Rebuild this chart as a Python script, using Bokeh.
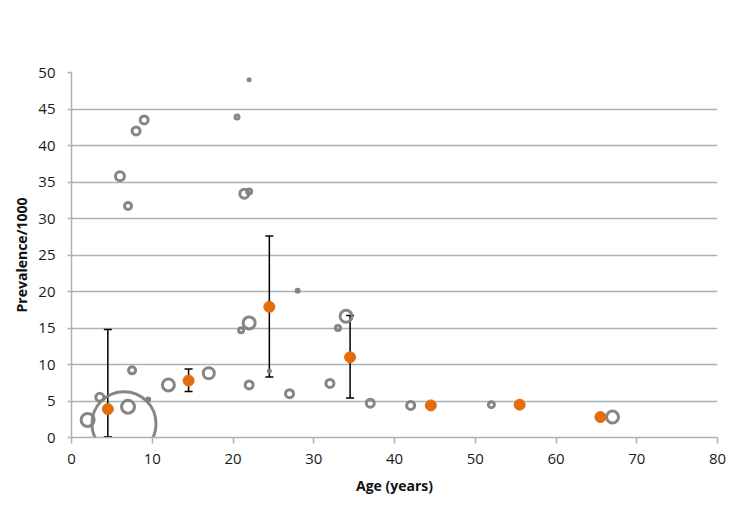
from bokeh.plotting import figure
from bokeh.models import ColumnDataSource, Whisker, Range1d, FixedTicker, TeeHead
from bokeh.embed import file_html
from bokeh.resources import INLINE

# Study bubbles (grey rings)
bubble_x = [2, 3.5, 6.5, 7, 7.5, 9.5, 12, 17, 6, 7, 8, 9, 20.5, 22, 21.4, 22, 21, 22, 22, 24.5, 27, 28, 32, 33, 34, 37, 42, 52, 67]
bubble_y = [2.4, 5.5, 1.9, 4.2, 9.2, 5.2, 7.2, 8.8, 35.8, 31.7, 42, 43.5, 43.9, 49, 33.4, 33.7, 14.7, 15.7, 7.2, 9.1, 6.0, 20.1, 7.4, 15.0, 16.6, 4.7, 4.4, 4.5, 2.8]
bubble_weight = [13, 8, 64, 13, 7, 3, 12, 11, 9, 7, 8, 8, 4, 2, 9, 5, 5, 12, 8, 2, 8, 3, 8, 5, 12, 8, 8, 6, 12]

# Pooled estimates (orange) with 95% CI
pooled_x = [4.5, 14.5, 24.5, 34.5, 44.5, 55.5, 65.5]
pooled_y = [3.9, 7.8, 17.9, 11.0, 4.4, 4.5, 2.8]
ci_x = [4.5, 14.5, 24.5, 34.5]
ci_upper = [14.8, 9.4, 27.6, 16.7]
ci_lower = [0.1, 6.3, 8.3, 5.4]

x_ticks = [0, 10, 20, 30, 40, 50, 60, 70, 80]
y_ticks = [0, 5, 10, 15, 20, 25, 30, 35, 40, 45, 50]

FONT = "Open Sans"
GRID = "#a7b4b8"

p = figure(width=745, height=504, output_backend="svg", toolbar_location=None,
           x_range=Range1d(0, 80), y_range=Range1d(0, 50),
           min_border_left=71, min_border_right=28, min_border_top=72, min_border_bottom=67)
p.outline_line_color = None
p.background_fill_color = "white"
p.border_fill_color = "white"

p.xgrid.grid_line_color = None
p.ygrid.grid_line_color = GRID
p.ygrid.grid_line_width = 1.5
p.ygrid.ticker = FixedTicker(ticks=y_ticks)

p.xaxis.ticker = FixedTicker(ticks=x_ticks)
p.yaxis.ticker = FixedTicker(ticks=y_ticks)
for ax in (p.xaxis[0], p.yaxis[0]):
    ax.axis_line_color = GRID
    ax.axis_line_width = 1.5
    ax.major_tick_line_color = GRID
    ax.major_tick_line_width = 1.5
    ax.minor_tick_line_color = None
    ax.major_tick_in = 0
    ax.major_label_text_font = FONT
    ax.major_label_text_font_size = "15px"
    ax.major_label_text_color = "#1a1a1a"
    ax.axis_label_text_font = FONT
    ax.axis_label_text_font_size = "14px"
    ax.axis_label_text_font_style = "bold"
    ax.axis_label_text_color = "#111111"

p.xaxis.major_tick_out = 6
p.xaxis.major_label_standoff = 10
p.xaxis.axis_label = "Age (years)"
p.xaxis.axis_label_standoff = 9
p.yaxis.major_tick_out = 4
p.yaxis.major_label_standoff = 12
p.yaxis.axis_label = "Prevalence/1000"
p.yaxis.axis_label_standoff = 4

fill_alpha = [1.0 if w <= 3 else 0.0 for w in bubble_weight]
bsrc = ColumnDataSource(dict(x=bubble_x, y=bubble_y, s=bubble_weight, fa=fill_alpha))
p.scatter("x", "y", size="s", source=bsrc, fill_color="#808080", fill_alpha="fa",
          line_color="#808080", line_width=3, line_alpha=0.95)

csrc = ColumnDataSource(dict(x=ci_x, up=ci_upper, lo=ci_lower))
wh = Whisker(base="x", upper="up", lower="lo", source=csrc, dimension="height",
             line_color="black", line_width=1.5, level="underlay",
             upper_head=TeeHead(size=8, line_color="black", line_width=1.5),
             lower_head=TeeHead(size=8, line_color="black", line_width=1.5))
p.add_layout(wh)

psrc = ColumnDataSource(dict(x=pooled_x, y=pooled_y))
p.scatter("x", "y", size=11, source=psrc, fill_color="#e46c0a", line_color="#e46c0a")

open("out.html", "w").write(file_html(p, INLINE))
